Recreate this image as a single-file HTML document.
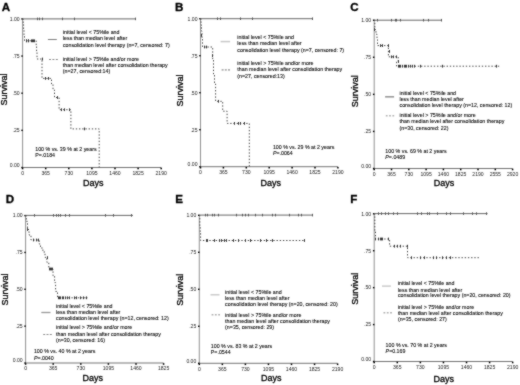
<!DOCTYPE html>
<html><head><meta charset="utf-8"><style>
html,body{margin:0;padding:0;background:#fff;}
svg{display:block;font-family:"Liberation Sans", sans-serif;filter:grayscale(1);}
.t{fill:#000;stroke:#000;stroke-width:0.08;}
.tk{fill:#1a1a1a;}
.ax{fill:#000;stroke:#000;stroke-width:0.3;}
</style></head><body>
<svg width="520" height="385" viewBox="0 0 520 385">
<defs><filter id="bl" filterUnits="userSpaceOnUse" x="0" y="0" width="520" height="385" color-interpolation-filters="sRGB"><feConvolveMatrix order="3" kernelMatrix="1 2 1 2 16 2 1 2 1" divisor="28" edgeMode="duplicate"/></filter></defs>
<rect width="520" height="385" fill="#fff"/>
<g filter="url(#bl)">
<g><text x="1.7" y="10.7" font-size="11.6" font-weight="bold" fill="#000" stroke="#000" stroke-width="0.3">A</text><path d="M22.6 18.9V167.5" stroke="#8c8c8c" stroke-width="0.95" fill="none"/><path d="M22.6 167.5H161.2" stroke="#6e6e6e" stroke-width="0.95" fill="none"/><rect x="21.3" y="18.2" width="1.5" height="1.4" fill="#000"/><text x="19.6" y="20.7" font-size="5.1" text-anchor="end" class="tk">1.00</text><rect x="21.3" y="55.35" width="1.5" height="1.4" fill="#000"/><text x="19.6" y="57.85" font-size="5.1" text-anchor="end" class="tk">.75</text><rect x="21.3" y="92.5" width="1.5" height="1.4" fill="#000"/><text x="19.6" y="95" font-size="5.1" text-anchor="end" class="tk">.50</text><rect x="21.3" y="129.65" width="1.5" height="1.4" fill="#000"/><text x="19.6" y="132.15" font-size="5.1" text-anchor="end" class="tk">.25</text><rect x="21.3" y="166.8" width="1.5" height="1.4" fill="#000"/><text x="19.6" y="166.7" font-size="5.1" text-anchor="end" class="tk">0.00</text><rect x="21.85" y="167.7" width="1.5" height="1.6" fill="#000"/><text x="22.6" y="174.9" font-size="5.1" text-anchor="middle" class="tk">0</text><rect x="44.95" y="167.7" width="1.5" height="1.6" fill="#000"/><text x="45.7" y="174.9" font-size="5.1" text-anchor="middle" class="tk">365</text><rect x="68.05" y="167.7" width="1.5" height="1.6" fill="#000"/><text x="68.8" y="174.9" font-size="5.1" text-anchor="middle" class="tk">730</text><rect x="91.15" y="167.7" width="1.5" height="1.6" fill="#000"/><text x="91.9" y="174.9" font-size="5.1" text-anchor="middle" class="tk">1095</text><rect x="114.25" y="167.7" width="1.5" height="1.6" fill="#000"/><text x="115" y="174.9" font-size="5.1" text-anchor="middle" class="tk">1460</text><rect x="137.35" y="167.7" width="1.5" height="1.6" fill="#000"/><text x="138.1" y="174.9" font-size="5.1" text-anchor="middle" class="tk">1825</text><rect x="160.45" y="167.7" width="1.5" height="1.6" fill="#000"/><text x="161.2" y="174.9" font-size="5.1" text-anchor="middle" class="tk">2190</text><text x="82.9" y="186" font-size="9.0" class="ax">Days</text><text transform="translate(6.5 89.5) rotate(-90)" font-size="9.0" text-anchor="middle" class="ax">Survival</text><text transform="translate(62.9 33.69) scale(1 1.08)" font-size="5.3" class="t">initial level &lt; 75%ile and</text><text transform="translate(62.9 40.29) scale(1 1.08)" font-size="5.3" class="t">less than median level after</text><text transform="translate(62.9 46.89) scale(1 1.08)" font-size="5.3" class="t">consolidation level therapy (n=7, censored: 7)</text><line x1="47.9" y1="39.5" x2="56.8" y2="39.5" stroke="#808080" stroke-width="1.0"/><text transform="translate(62.8 60.84) scale(1 1.08)" font-size="5.3" class="t">initial level &gt; 75%ile and/or more</text><text transform="translate(62.8 66.99) scale(1 1.08)" font-size="5.3" class="t">than median level after consolidation therapy</text><text transform="translate(62.8 73.39) scale(1 1.08)" font-size="5.3" class="t">(n=27, censored:14)</text><line x1="49" y1="59.5" x2="57.8" y2="59.5" stroke="#8a8a8a" stroke-width="1.0" stroke-dasharray="2 1.4"/><text transform="translate(35.2 150.55) scale(1 1.08)" font-size="5.3" class="t">100 % vs. 39 % at 2 years</text><text transform="translate(35.2 156.65) scale(1 1.08)" font-size="5.3" class="t"><tspan font-style="normal">P</tspan>=.0184</text><path d="M22.6 18.9 L135.3 18.9" stroke="#606060" stroke-width="0.95" fill="none"/><rect x="37" y="17.6" width="1" height="2.6" fill="#5a5a5a"/><rect x="39" y="17.6" width="1" height="2.6" fill="#5a5a5a"/><rect x="42" y="17.6" width="1" height="2.6" fill="#5a5a5a"/><rect x="62" y="17.6" width="1" height="2.6" fill="#5a5a5a"/><rect x="74" y="17.6" width="1" height="2.6" fill="#5a5a5a"/><rect x="135" y="17.6" width="1" height="2.6" fill="#5a5a5a"/><path d="M22.6 18.9 L23.2 18.9 L23.2 24.5 L23.6 24.5 L23.6 30 L24 30 L24 35.5 L24.5 35.5 L24.5 40.8 L36.2 40.8 L36.2 46.4 L36.6 46.4 L36.6 52 L37 52 L37 59 L42 59 L42 78.4 L51.5 78.4 L51.5 84 L53 84 L53 90 L54.5 90 L54.5 97.5 L59.1 97.5 L59.1 109.7 L70.9 109.7 L70.9 128.9 L99.2 128.9 L99.2 167.5" stroke="#484848" stroke-width="1" fill="none" stroke-dasharray="1.4 1.8"/><rect x="26" y="39.4" width="1" height="2.8" fill="#3a3a3a"/><rect x="26" y="39.4" width="1" height="2.8" fill="#3a3a3a"/><rect x="28" y="39.4" width="1" height="2.8" fill="#3a3a3a"/><rect x="28" y="39.4" width="1" height="2.8" fill="#3a3a3a"/><rect x="31" y="39.4" width="1" height="2.8" fill="#3a3a3a"/><rect x="32" y="39.4" width="1" height="2.8" fill="#3a3a3a"/><rect x="33" y="39.4" width="1" height="2.8" fill="#3a3a3a"/><rect x="34" y="39.4" width="1" height="2.8" fill="#3a3a3a"/><rect x="42" y="57.6" width="1" height="2.8" fill="#3a3a3a"/><rect x="45" y="77" width="1" height="2.8" fill="#3a3a3a"/><rect x="48" y="77" width="1" height="2.8" fill="#3a3a3a"/><rect x="57" y="96.1" width="1" height="2.8" fill="#3a3a3a"/><rect x="61" y="108.3" width="1" height="2.8" fill="#3a3a3a"/><rect x="64" y="108.3" width="1" height="2.8" fill="#3a3a3a"/><rect x="69" y="108.3" width="1" height="2.8" fill="#3a3a3a"/><rect x="84" y="127.5" width="1" height="2.8" fill="#3a3a3a"/></g>
<g><text x="175.1" y="10.7" font-size="11.6" font-weight="bold" fill="#000" stroke="#000" stroke-width="0.3">B</text><path d="M200.5 18.7V166.7" stroke="#8c8c8c" stroke-width="0.95" fill="none"/><path d="M200.5 166.7H337.9" stroke="#6e6e6e" stroke-width="0.95" fill="none"/><rect x="199.2" y="18" width="1.5" height="1.4" fill="#000"/><text x="197.5" y="20.5" font-size="5.1" text-anchor="end" class="tk">1.00</text><rect x="199.2" y="55" width="1.5" height="1.4" fill="#000"/><text x="197.5" y="57.5" font-size="5.1" text-anchor="end" class="tk">.75</text><rect x="199.2" y="92" width="1.5" height="1.4" fill="#000"/><text x="197.5" y="94.5" font-size="5.1" text-anchor="end" class="tk">.50</text><rect x="199.2" y="129" width="1.5" height="1.4" fill="#000"/><text x="197.5" y="131.5" font-size="5.1" text-anchor="end" class="tk">.25</text><rect x="199.2" y="166" width="1.5" height="1.4" fill="#000"/><text x="197.5" y="165.9" font-size="5.1" text-anchor="end" class="tk">0.00</text><rect x="199.75" y="166.9" width="1.5" height="1.6" fill="#000"/><text x="200.5" y="174.1" font-size="5.1" text-anchor="middle" class="tk">0</text><rect x="222.65" y="166.9" width="1.5" height="1.6" fill="#000"/><text x="223.4" y="174.1" font-size="5.1" text-anchor="middle" class="tk">365</text><rect x="245.55" y="166.9" width="1.5" height="1.6" fill="#000"/><text x="246.3" y="174.1" font-size="5.1" text-anchor="middle" class="tk">730</text><rect x="268.45" y="166.9" width="1.5" height="1.6" fill="#000"/><text x="269.2" y="174.1" font-size="5.1" text-anchor="middle" class="tk">1095</text><rect x="291.35" y="166.9" width="1.5" height="1.6" fill="#000"/><text x="292.1" y="174.1" font-size="5.1" text-anchor="middle" class="tk">1460</text><rect x="314.25" y="166.9" width="1.5" height="1.6" fill="#000"/><text x="315" y="174.1" font-size="5.1" text-anchor="middle" class="tk">1825</text><rect x="337.15" y="166.9" width="1.5" height="1.6" fill="#000"/><text x="337.9" y="174.1" font-size="5.1" text-anchor="middle" class="tk">2190</text><text x="260.4" y="186.2" font-size="9.0" class="ax">Days</text><text transform="translate(183.3 90.5) rotate(-90)" font-size="9.0" text-anchor="middle" class="ax">Survival</text><text transform="translate(237.3 38.89) scale(1 1.08)" font-size="5.3" class="t">initial level &lt; 75%ile and</text><text transform="translate(237.3 45.39) scale(1 1.08)" font-size="5.3" class="t">less than median level after</text><text transform="translate(237.3 51.89) scale(1 1.08)" font-size="5.3" class="t">consolidation level therapy (n=7, censored: 7)</text><line x1="220.6" y1="41.6" x2="230.1" y2="41.6" stroke="#c8c8c8" stroke-width="1.5"/><text transform="translate(237.3 65.49) scale(1 1.08)" font-size="5.3" class="t">initial level &gt; 75%ile and/or more</text><text transform="translate(237.3 71.09) scale(1 1.08)" font-size="5.3" class="t">than median level after consolidation therapy</text><text transform="translate(237.3 77.69) scale(1 1.08)" font-size="5.3" class="t">(n=27, censored:13)</text><line x1="221.6" y1="69.9" x2="230" y2="69.9" stroke="#b0b0b0" stroke-width="1.8" stroke-dasharray="2 1.2"/><text transform="translate(272.9 149.45) scale(1 1.08)" font-size="5.3" class="t">100 % vs. 29 % at 2 years</text><text transform="translate(272.9 155.2) scale(1 1.08)" font-size="5.3" class="t"><tspan font-style="italic">P</tspan>=.0064</text><path d="M200.5 18.7 L312.7 18.7" stroke="#606060" stroke-width="0.95" fill="none"/><rect x="217" y="17.4" width="1" height="2.6" fill="#5a5a5a"/><rect x="220" y="17.4" width="1" height="2.6" fill="#5a5a5a"/><rect x="240" y="17.4" width="1" height="2.6" fill="#5a5a5a"/><rect x="252" y="17.4" width="1" height="2.6" fill="#5a5a5a"/><rect x="312" y="17.4" width="1" height="2.6" fill="#5a5a5a"/><path d="M200.5 18.7 L201 18.7 L201 25 L201.5 25 L201.5 31 L202 31 L202 38 L202.5 38 L202.5 47 L212.7 47 L212.7 60 L213.5 60 L213.5 74 L214.5 74 L214.5 84 L215.6 84 L215.6 101.3 L222.7 101.3 L222.7 111.2 L227.1 111.2 L227.1 123.4 L249.3 123.4 L249.3 166.7" stroke="#484848" stroke-width="1" fill="none" stroke-dasharray="1.4 1.8"/><rect x="201" y="34" width="1" height="2.8" fill="#3a3a3a"/><rect x="204" y="45.6" width="1" height="2.8" fill="#3a3a3a"/><rect x="206" y="45.6" width="1" height="2.8" fill="#3a3a3a"/><rect x="212" y="54.2" width="1" height="2.8" fill="#3a3a3a"/><rect x="218" y="99.9" width="1" height="2.8" fill="#3a3a3a"/><rect x="234" y="122" width="1" height="2.8" fill="#3a3a3a"/><rect x="238" y="122" width="1" height="2.8" fill="#3a3a3a"/><rect x="240" y="122" width="1" height="2.8" fill="#3a3a3a"/><rect x="244" y="122" width="1" height="2.8" fill="#3a3a3a"/></g>
<g><text x="350.3" y="10.7" font-size="11.6" font-weight="bold" fill="#000" stroke="#000" stroke-width="0.3">C</text><path d="M374.2 20.2V168.5" stroke="#8c8c8c" stroke-width="0.95" fill="none"/><path d="M374.2 168.5H512.6" stroke="#6e6e6e" stroke-width="0.95" fill="none"/><rect x="372.9" y="19.5" width="1.5" height="1.4" fill="#000"/><text x="371.2" y="22" font-size="5.1" text-anchor="end" class="tk">1.00</text><rect x="372.9" y="56.57" width="1.5" height="1.4" fill="#000"/><text x="371.2" y="59.07" font-size="5.1" text-anchor="end" class="tk">.75</text><rect x="372.9" y="93.65" width="1.5" height="1.4" fill="#000"/><text x="371.2" y="96.15" font-size="5.1" text-anchor="end" class="tk">.50</text><rect x="372.9" y="130.73" width="1.5" height="1.4" fill="#000"/><text x="371.2" y="133.23" font-size="5.1" text-anchor="end" class="tk">.25</text><rect x="372.9" y="167.8" width="1.5" height="1.4" fill="#000"/><text x="371.2" y="167.7" font-size="5.1" text-anchor="end" class="tk">0.00</text><rect x="373.45" y="168.7" width="1.5" height="1.6" fill="#000"/><text x="374.2" y="175.9" font-size="5.1" text-anchor="middle" class="tk">0</text><rect x="390.75" y="168.7" width="1.5" height="1.6" fill="#000"/><text x="391.5" y="175.9" font-size="5.1" text-anchor="middle" class="tk">365</text><rect x="408.05" y="168.7" width="1.5" height="1.6" fill="#000"/><text x="408.8" y="175.9" font-size="5.1" text-anchor="middle" class="tk">730</text><rect x="425.35" y="168.7" width="1.5" height="1.6" fill="#000"/><text x="426.1" y="175.9" font-size="5.1" text-anchor="middle" class="tk">1095</text><rect x="442.65" y="168.7" width="1.5" height="1.6" fill="#000"/><text x="443.4" y="175.9" font-size="5.1" text-anchor="middle" class="tk">1460</text><rect x="459.95" y="168.7" width="1.5" height="1.6" fill="#000"/><text x="460.7" y="175.9" font-size="5.1" text-anchor="middle" class="tk">1825</text><rect x="477.25" y="168.7" width="1.5" height="1.6" fill="#000"/><text x="478" y="175.9" font-size="5.1" text-anchor="middle" class="tk">2190</text><rect x="494.55" y="168.7" width="1.5" height="1.6" fill="#000"/><text x="495.3" y="175.9" font-size="5.1" text-anchor="middle" class="tk">2555</text><rect x="511.85" y="168.7" width="1.5" height="1.6" fill="#000"/><text x="512.6" y="175.9" font-size="5.1" text-anchor="middle" class="tk">2920</text><text x="433.8" y="186.2" font-size="9.0" class="ax">Days</text><text transform="translate(358.3 91.2) rotate(-90)" font-size="9.0" text-anchor="middle" class="ax">Survival</text><text transform="translate(399.5 94.99) scale(1 1.08)" font-size="5.3" class="t">initial level &lt; 75%ile and</text><text transform="translate(399.5 101.19) scale(1 1.08)" font-size="5.3" class="t">less than median level after</text><text transform="translate(399.5 107.39) scale(1 1.08)" font-size="5.3" class="t">consolidation level therapy (n=12, censored: 12)</text><line x1="385.1" y1="96.8" x2="394.1" y2="96.8" stroke="#9a9a9a" stroke-width="1.6"/><text transform="translate(399.5 117.19) scale(1 1.08)" font-size="5.3" class="t">initial level &gt; 75%ile and/or more</text><text transform="translate(399.5 123.29) scale(1 1.08)" font-size="5.3" class="t">than median level after consolidation therapy</text><text transform="translate(399.5 129.59) scale(1 1.08)" font-size="5.3" class="t">(n=30, censored: 22)</text><line x1="385.8" y1="115.7" x2="394.2" y2="115.7" stroke="#b4b4b4" stroke-width="1.6" stroke-dasharray="1.8 1.5"/><text transform="translate(385.3 153.2) scale(1 1.08)" font-size="5.3" class="t">100 % vs. 69 % at 2 years</text><text transform="translate(385.3 159.4) scale(1 1.08)" font-size="5.3" class="t"><tspan font-style="italic">P</tspan>=.0489</text><path d="M374.2 20.2 L441.8 20.2" stroke="#606060" stroke-width="0.95" fill="none"/><rect x="377" y="18.9" width="1" height="2.6" fill="#5a5a5a"/><rect x="391" y="18.9" width="1" height="2.6" fill="#5a5a5a"/><rect x="395" y="18.9" width="1" height="2.6" fill="#5a5a5a"/><rect x="396" y="18.9" width="1" height="2.6" fill="#5a5a5a"/><rect x="400" y="18.9" width="1" height="2.6" fill="#5a5a5a"/><rect x="423" y="18.9" width="1" height="2.6" fill="#5a5a5a"/><rect x="428" y="18.9" width="1" height="2.6" fill="#5a5a5a"/><rect x="441" y="18.9" width="1" height="2.6" fill="#5a5a5a"/><path d="M374.2 20.2 L374.8 20.2 L374.8 29.6 L376 29.6 L376 34.2 L377 34.2 L377 39.7 L377.5 39.7 L377.5 45.6 L388.4 45.6 L388.4 56.8 L398.2 56.8 L398.2 61.5 L396.6 61.5 L396.6 66.2 L500 66.2" stroke="#484848" stroke-width="1" fill="none" stroke-dasharray="1.4 1.8"/><rect x="374" y="28.2" width="1" height="2.8" fill="#3a3a3a"/><rect x="380" y="44.2" width="1" height="2.8" fill="#3a3a3a"/><rect x="382" y="44.2" width="1" height="2.8" fill="#3a3a3a"/><rect x="388" y="44.2" width="1" height="2.8" fill="#3a3a3a"/><rect x="389" y="50" width="1" height="2.8" fill="#3a3a3a"/><rect x="391" y="55.4" width="1" height="2.8" fill="#3a3a3a"/><rect x="393" y="55.4" width="1" height="2.8" fill="#3a3a3a"/><rect x="396" y="55.4" width="1" height="2.8" fill="#3a3a3a"/><rect x="398" y="60.1" width="1" height="2.8" fill="#3a3a3a"/><rect x="398" y="64.8" width="1" height="2.8" fill="#3a3a3a"/><rect x="399" y="64.8" width="1" height="2.8" fill="#3a3a3a"/><rect x="400" y="64.8" width="1" height="2.8" fill="#3a3a3a"/><rect x="402" y="64.8" width="1" height="2.8" fill="#3a3a3a"/><rect x="404" y="64.8" width="1" height="2.8" fill="#3a3a3a"/><rect x="405" y="64.8" width="1" height="2.8" fill="#3a3a3a"/><rect x="406" y="64.8" width="1" height="2.8" fill="#3a3a3a"/><rect x="408" y="64.8" width="1" height="2.8" fill="#3a3a3a"/><rect x="410" y="64.8" width="1" height="2.8" fill="#3a3a3a"/><rect x="412" y="64.8" width="1" height="2.8" fill="#3a3a3a"/><rect x="414" y="64.8" width="1" height="2.8" fill="#3a3a3a"/><rect x="420" y="64.8" width="1" height="2.8" fill="#3a3a3a"/><rect x="442" y="64.8" width="1" height="2.8" fill="#3a3a3a"/><rect x="496" y="64.8" width="1" height="2.8" fill="#3a3a3a"/></g>
<g><text x="5.8" y="203" font-size="11.6" font-weight="bold" fill="#000" stroke="#000" stroke-width="0.3">D</text><path d="M25.6 215.6V363" stroke="#8c8c8c" stroke-width="0.95" fill="none"/><path d="M25.6 363H163.6" stroke="#6e6e6e" stroke-width="0.95" fill="none"/><rect x="24.3" y="214.9" width="1.5" height="1.4" fill="#000"/><text x="22.6" y="217.4" font-size="5.1" text-anchor="end" class="tk">1.00</text><rect x="24.3" y="251.75" width="1.5" height="1.4" fill="#000"/><text x="22.6" y="254.25" font-size="5.1" text-anchor="end" class="tk">.75</text><rect x="24.3" y="288.6" width="1.5" height="1.4" fill="#000"/><text x="22.6" y="291.1" font-size="5.1" text-anchor="end" class="tk">.50</text><rect x="24.3" y="325.45" width="1.5" height="1.4" fill="#000"/><text x="22.6" y="327.95" font-size="5.1" text-anchor="end" class="tk">.25</text><rect x="24.3" y="362.3" width="1.5" height="1.4" fill="#000"/><text x="22.6" y="362.2" font-size="5.1" text-anchor="end" class="tk">0.00</text><rect x="24.85" y="363.2" width="1.5" height="1.6" fill="#000"/><text x="25.6" y="370.4" font-size="5.1" text-anchor="middle" class="tk">0</text><rect x="52.45" y="363.2" width="1.5" height="1.6" fill="#000"/><text x="53.2" y="370.4" font-size="5.1" text-anchor="middle" class="tk">365</text><rect x="80.05" y="363.2" width="1.5" height="1.6" fill="#000"/><text x="80.8" y="370.4" font-size="5.1" text-anchor="middle" class="tk">730</text><rect x="107.65" y="363.2" width="1.5" height="1.6" fill="#000"/><text x="108.4" y="370.4" font-size="5.1" text-anchor="middle" class="tk">1095</text><rect x="135.25" y="363.2" width="1.5" height="1.6" fill="#000"/><text x="136" y="370.4" font-size="5.1" text-anchor="middle" class="tk">1460</text><rect x="162.85" y="363.2" width="1.5" height="1.6" fill="#000"/><text x="163.6" y="370.4" font-size="5.1" text-anchor="middle" class="tk">1825</text><text x="82.4" y="381.2" font-size="9.0" class="ax">Days</text><text transform="translate(7.8 289.5) rotate(-90)" font-size="9.0" text-anchor="middle" class="ax">Survival</text><text transform="translate(56 307.99) scale(1 1.08)" font-size="5.3" class="t">initial level &lt; 75%ile and</text><text transform="translate(56 314.29) scale(1 1.08)" font-size="5.3" class="t">less than median level after</text><text transform="translate(56 320.39) scale(1 1.08)" font-size="5.3" class="t">consolidation level therapy (n=12, censored: 12)</text><line x1="41.3" y1="312.5" x2="50.5" y2="312.5" stroke="#999" stroke-width="1.3"/><text transform="translate(56 329.04) scale(1 1.08)" font-size="5.3" class="t">initial level &gt; 75%ile and/or more</text><text transform="translate(56 335.99) scale(1 1.08)" font-size="5.3" class="t">than median level after consolidation therapy</text><text transform="translate(56 342.09) scale(1 1.08)" font-size="5.3" class="t">(n=30, censored: 16)</text><line x1="43.2" y1="334.5" x2="51.8" y2="334.5" stroke="#8c8c8c" stroke-width="1.2" stroke-dasharray="2 1.3"/><text transform="translate(33.9 352.85) scale(1 1.08)" font-size="5.3" class="t">100 % vs. 40 % at 2 years</text><text transform="translate(33.9 360.3) scale(1 1.08)" font-size="5.3" class="t"><tspan font-style="italic">P</tspan>=.0040</text><path d="M25.6 215.4 L133 215.4" stroke="#606060" stroke-width="0.95" fill="none"/><rect x="34" y="214.1" width="1" height="2.6" fill="#5a5a5a"/><rect x="53" y="214.1" width="1" height="2.6" fill="#5a5a5a"/><rect x="56" y="214.1" width="1" height="2.6" fill="#5a5a5a"/><rect x="58" y="214.1" width="1" height="2.6" fill="#5a5a5a"/><rect x="60" y="214.1" width="1" height="2.6" fill="#5a5a5a"/><rect x="65" y="214.1" width="1" height="2.6" fill="#5a5a5a"/><rect x="69" y="214.1" width="1" height="2.6" fill="#5a5a5a"/><rect x="105" y="214.1" width="1" height="2.6" fill="#5a5a5a"/><rect x="113" y="214.1" width="1" height="2.6" fill="#5a5a5a"/><rect x="131" y="214.1" width="1" height="2.6" fill="#5a5a5a"/><path d="M25.6 215.6 L26.3 215.6 L26.3 221.3 L27.5 221.3 L27.5 229.5 L29 229.5 L29 235 L31 235 L31 240 L39.2 240 L39.2 244 L40.5 244 L40.5 248 L42.9 248 L42.9 252 L45 252 L45 257.3 L46.8 257.3 L46.8 262.2 L48.8 262.2 L48.8 269 L53 269 L53 275.8 L54.6 275.8 L54.6 282.6 L55.6 282.6 L55.6 291.4 L57.5 291.4 L57.5 297.8 L87.8 297.8" stroke="#484848" stroke-width="1" fill="none" stroke-dasharray="1.4 1.8"/><rect x="27" y="228.1" width="1" height="2.8" fill="#3a3a3a"/><rect x="33" y="238.6" width="1" height="2.8" fill="#3a3a3a"/><rect x="36" y="238.6" width="1" height="2.8" fill="#3a3a3a"/><rect x="38" y="238.6" width="1" height="2.8" fill="#3a3a3a"/><rect x="47" y="256.2" width="1" height="2.8" fill="#3a3a3a"/><rect x="49" y="267.6" width="1" height="2.8" fill="#3a3a3a"/><rect x="50" y="267.6" width="1" height="2.8" fill="#3a3a3a"/><rect x="51" y="267.6" width="1" height="2.8" fill="#3a3a3a"/><rect x="52" y="267.6" width="1" height="2.8" fill="#3a3a3a"/><rect x="58" y="296.4" width="1" height="2.8" fill="#3a3a3a"/><rect x="59" y="296.4" width="1" height="2.8" fill="#3a3a3a"/><rect x="60" y="296.4" width="1" height="2.8" fill="#3a3a3a"/><rect x="62" y="296.4" width="1" height="2.8" fill="#3a3a3a"/><rect x="63" y="296.4" width="1" height="2.8" fill="#3a3a3a"/><rect x="65" y="296.4" width="1" height="2.8" fill="#3a3a3a"/><rect x="67" y="296.4" width="1" height="2.8" fill="#3a3a3a"/><rect x="69" y="296.4" width="1" height="2.8" fill="#3a3a3a"/><rect x="74" y="296.4" width="1" height="2.8" fill="#3a3a3a"/><rect x="76" y="296.4" width="1" height="2.8" fill="#3a3a3a"/><rect x="80" y="296.4" width="1" height="2.8" fill="#3a3a3a"/><rect x="83" y="296.4" width="1" height="2.8" fill="#3a3a3a"/><rect x="86" y="296.4" width="1" height="2.8" fill="#3a3a3a"/></g>
<g><text x="175.2" y="203.2" font-size="11.6" font-weight="bold" fill="#000" stroke="#000" stroke-width="0.3">E</text><path d="M199.3 215.3V363.3" stroke="#8c8c8c" stroke-width="0.95" fill="none"/><path d="M199.3 363.3H337.6" stroke="#6e6e6e" stroke-width="0.95" fill="none"/><rect x="198" y="214.6" width="1.5" height="1.4" fill="#000"/><text x="196.3" y="217.1" font-size="5.1" text-anchor="end" class="tk">1.00</text><rect x="198" y="251.6" width="1.5" height="1.4" fill="#000"/><text x="196.3" y="254.1" font-size="5.1" text-anchor="end" class="tk">.75</text><rect x="198" y="288.6" width="1.5" height="1.4" fill="#000"/><text x="196.3" y="291.1" font-size="5.1" text-anchor="end" class="tk">.50</text><rect x="198" y="325.6" width="1.5" height="1.4" fill="#000"/><text x="196.3" y="328.1" font-size="5.1" text-anchor="end" class="tk">.25</text><rect x="198" y="362.6" width="1.5" height="1.4" fill="#000"/><text x="196.3" y="362.5" font-size="5.1" text-anchor="end" class="tk">0.00</text><rect x="198.55" y="363.5" width="1.5" height="1.6" fill="#000"/><text x="199.3" y="370.7" font-size="5.1" text-anchor="middle" class="tk">0</text><rect x="221.6" y="363.5" width="1.5" height="1.6" fill="#000"/><text x="222.35" y="370.7" font-size="5.1" text-anchor="middle" class="tk">365</text><rect x="244.65" y="363.5" width="1.5" height="1.6" fill="#000"/><text x="245.4" y="370.7" font-size="5.1" text-anchor="middle" class="tk">730</text><rect x="267.7" y="363.5" width="1.5" height="1.6" fill="#000"/><text x="268.45" y="370.7" font-size="5.1" text-anchor="middle" class="tk">1095</text><rect x="290.75" y="363.5" width="1.5" height="1.6" fill="#000"/><text x="291.5" y="370.7" font-size="5.1" text-anchor="middle" class="tk">1460</text><rect x="313.8" y="363.5" width="1.5" height="1.6" fill="#000"/><text x="314.55" y="370.7" font-size="5.1" text-anchor="middle" class="tk">1825</text><rect x="336.85" y="363.5" width="1.5" height="1.6" fill="#000"/><text x="337.6" y="370.7" font-size="5.1" text-anchor="middle" class="tk">2190</text><text x="261" y="381.2" font-size="9.0" class="ax">Days</text><text transform="translate(182.8 289.7) rotate(-90)" font-size="9.0" text-anchor="middle" class="ax">Survival</text><text transform="translate(225.1 293.79) scale(1 1.08)" font-size="5.3" class="t">initial level &lt; 75%ile and</text><text transform="translate(225.1 299.99) scale(1 1.08)" font-size="5.3" class="t">less than median level after</text><text transform="translate(225.1 306.09) scale(1 1.08)" font-size="5.3" class="t">consolidation level therapy (n=20, censored: 20)</text><line x1="210.5" y1="294.8" x2="219.5" y2="294.8" stroke="#c8c8c8" stroke-width="1.4"/><text transform="translate(225.1 317.39) scale(1 1.08)" font-size="5.3" class="t">initial level &gt; 75%ile and/or more</text><text transform="translate(225.1 322.89) scale(1 1.08)" font-size="5.3" class="t">than median level after consolidation therapy</text><text transform="translate(225.1 329.49) scale(1 1.08)" font-size="5.3" class="t">(n=35, censored: 29)</text><line x1="211.6" y1="314.7" x2="220" y2="314.7" stroke="#b0b0b0" stroke-width="1.6" stroke-dasharray="1.8 1.5"/><text transform="translate(210.8 347.9) scale(1 1.08)" font-size="5.3" class="t">100 % vs. 83 % at 2 years</text><text transform="translate(210.8 354.2) scale(1 1.08)" font-size="5.3" class="t"><tspan font-style="normal">P</tspan>=.0544</text><path d="M199.3 215.1 L312.7 215.1" stroke="#606060" stroke-width="0.95" fill="none"/><rect x="205" y="213.8" width="1" height="2.6" fill="#5a5a5a"/><rect x="207" y="213.8" width="1" height="2.6" fill="#5a5a5a"/><rect x="212" y="213.8" width="1" height="2.6" fill="#5a5a5a"/><rect x="214" y="213.8" width="1" height="2.6" fill="#5a5a5a"/><rect x="218" y="213.8" width="1" height="2.6" fill="#5a5a5a"/><rect x="236" y="213.8" width="1" height="2.6" fill="#5a5a5a"/><rect x="242" y="213.8" width="1" height="2.6" fill="#5a5a5a"/><rect x="245" y="213.8" width="1" height="2.6" fill="#5a5a5a"/><rect x="248" y="213.8" width="1" height="2.6" fill="#5a5a5a"/><rect x="255" y="213.8" width="1" height="2.6" fill="#5a5a5a"/><rect x="262" y="213.8" width="1" height="2.6" fill="#5a5a5a"/><rect x="272" y="213.8" width="1" height="2.6" fill="#5a5a5a"/><rect x="275" y="213.8" width="1" height="2.6" fill="#5a5a5a"/><rect x="289" y="213.8" width="1" height="2.6" fill="#5a5a5a"/><rect x="298" y="213.8" width="1" height="2.6" fill="#5a5a5a"/><rect x="301" y="213.8" width="1" height="2.6" fill="#5a5a5a"/><rect x="312" y="213.8" width="1" height="2.6" fill="#5a5a5a"/><path d="M199.3 215.3 L199.8 215.3 L199.8 226.7 L200.2 226.7 L200.2 232.5 L200.6 232.5 L200.6 240.5 L304.7 240.5" stroke="#484848" stroke-width="1" fill="none" stroke-dasharray="1.4 1.8"/><rect x="206" y="239.1" width="1" height="2.8" fill="#3a3a3a"/><rect x="207" y="239.1" width="1" height="2.8" fill="#3a3a3a"/><rect x="214" y="239.1" width="1" height="2.8" fill="#3a3a3a"/><rect x="219" y="239.1" width="1" height="2.8" fill="#3a3a3a"/><rect x="221" y="239.1" width="1" height="2.8" fill="#3a3a3a"/><rect x="224" y="239.1" width="1" height="2.8" fill="#3a3a3a"/><rect x="226" y="239.1" width="1" height="2.8" fill="#3a3a3a"/><rect x="233" y="239.1" width="1" height="2.8" fill="#3a3a3a"/><rect x="238" y="239.1" width="1" height="2.8" fill="#3a3a3a"/><rect x="245" y="239.1" width="1" height="2.8" fill="#3a3a3a"/><rect x="250" y="239.1" width="1" height="2.8" fill="#3a3a3a"/><rect x="250" y="239.1" width="1" height="2.8" fill="#3a3a3a"/><rect x="260" y="239.1" width="1" height="2.8" fill="#3a3a3a"/><rect x="266" y="239.1" width="1" height="2.8" fill="#3a3a3a"/><rect x="272" y="239.1" width="1" height="2.8" fill="#3a3a3a"/><rect x="304" y="239.1" width="1" height="2.8" fill="#3a3a3a"/></g>
<g><text x="350.2" y="203" font-size="11.6" font-weight="bold" fill="#000" stroke="#000" stroke-width="0.3">F</text><path d="M374.2 213.8V361.5" stroke="#8c8c8c" stroke-width="0.95" fill="none"/><path d="M374.2 361.5H512.68" stroke="#6e6e6e" stroke-width="0.95" fill="none"/><rect x="372.9" y="213.1" width="1.5" height="1.4" fill="#000"/><text x="371.2" y="215.6" font-size="5.1" text-anchor="end" class="tk">1.00</text><rect x="372.9" y="250.03" width="1.5" height="1.4" fill="#000"/><text x="371.2" y="252.53" font-size="5.1" text-anchor="end" class="tk">.75</text><rect x="372.9" y="286.95" width="1.5" height="1.4" fill="#000"/><text x="371.2" y="289.45" font-size="5.1" text-anchor="end" class="tk">.50</text><rect x="372.9" y="323.88" width="1.5" height="1.4" fill="#000"/><text x="371.2" y="326.38" font-size="5.1" text-anchor="end" class="tk">.25</text><rect x="372.9" y="360.8" width="1.5" height="1.4" fill="#000"/><text x="371.2" y="360.7" font-size="5.1" text-anchor="end" class="tk">0.00</text><rect x="373.45" y="361.7" width="1.5" height="1.6" fill="#000"/><text x="374.2" y="368.9" font-size="5.1" text-anchor="middle" class="tk">0</text><rect x="396.53" y="361.7" width="1.5" height="1.6" fill="#000"/><text x="397.28" y="368.9" font-size="5.1" text-anchor="middle" class="tk">365</text><rect x="419.61" y="361.7" width="1.5" height="1.6" fill="#000"/><text x="420.36" y="368.9" font-size="5.1" text-anchor="middle" class="tk">730</text><rect x="442.69" y="361.7" width="1.5" height="1.6" fill="#000"/><text x="443.44" y="368.9" font-size="5.1" text-anchor="middle" class="tk">1095</text><rect x="465.77" y="361.7" width="1.5" height="1.6" fill="#000"/><text x="466.52" y="368.9" font-size="5.1" text-anchor="middle" class="tk">1460</text><rect x="488.85" y="361.7" width="1.5" height="1.6" fill="#000"/><text x="489.6" y="368.9" font-size="5.1" text-anchor="middle" class="tk">1825</text><rect x="511.93" y="361.7" width="1.5" height="1.6" fill="#000"/><text x="512.68" y="368.9" font-size="5.1" text-anchor="middle" class="tk">2190</text><text x="433.4" y="381.8" font-size="9.0" class="ax">Days</text><text transform="translate(358.3 288.7) rotate(-90)" font-size="9.0" text-anchor="middle" class="ax">Survival</text><text transform="translate(397.9 285.09) scale(1 1.08)" font-size="5.3" class="t">initial level &lt; 75%ile and</text><text transform="translate(397.9 291.59) scale(1 1.08)" font-size="5.3" class="t">less than median level after</text><text transform="translate(397.9 297.49) scale(1 1.08)" font-size="5.3" class="t">consolidation level therapy (n=20, censored: 20)</text><line x1="382" y1="286.1" x2="390.9" y2="286.1" stroke="#c8c8c8" stroke-width="1.4"/><text transform="translate(397.9 308.89) scale(1 1.08)" font-size="5.3" class="t">initial level &gt; 75%ile and/or more</text><text transform="translate(397.9 315.09) scale(1 1.08)" font-size="5.3" class="t">than median level after consolidation therapy</text><text transform="translate(397.9 321.19) scale(1 1.08)" font-size="5.3" class="t">(n=35, censored: 27)</text><line x1="383.5" y1="312.7" x2="391.9" y2="312.7" stroke="#b0b0b0" stroke-width="1.6" stroke-dasharray="1.8 1.5"/><text transform="translate(385.6 346.5) scale(1 1.08)" font-size="5.3" class="t">100 % vs. 70 % at 2 years</text><text transform="translate(385.6 352.9) scale(1 1.08)" font-size="5.3" class="t"><tspan font-style="italic">P</tspan>=0.169</text><path d="M374.2 213.6 L487.6 213.6" stroke="#606060" stroke-width="0.95" fill="none"/><rect x="378" y="212.3" width="1" height="2.6" fill="#5a5a5a"/><rect x="381" y="212.3" width="1" height="2.6" fill="#5a5a5a"/><rect x="385" y="212.3" width="1" height="2.6" fill="#5a5a5a"/><rect x="388" y="212.3" width="1" height="2.6" fill="#5a5a5a"/><rect x="393" y="212.3" width="1" height="2.6" fill="#5a5a5a"/><rect x="397" y="212.3" width="1" height="2.6" fill="#5a5a5a"/><rect x="417" y="212.3" width="1" height="2.6" fill="#5a5a5a"/><rect x="421" y="212.3" width="1" height="2.6" fill="#5a5a5a"/><rect x="427" y="212.3" width="1" height="2.6" fill="#5a5a5a"/><rect x="429" y="212.3" width="1" height="2.6" fill="#5a5a5a"/><rect x="437" y="212.3" width="1" height="2.6" fill="#5a5a5a"/><rect x="446" y="212.3" width="1" height="2.6" fill="#5a5a5a"/><rect x="450" y="212.3" width="1" height="2.6" fill="#5a5a5a"/><rect x="463" y="212.3" width="1" height="2.6" fill="#5a5a5a"/><rect x="472" y="212.3" width="1" height="2.6" fill="#5a5a5a"/><rect x="476" y="212.3" width="1" height="2.6" fill="#5a5a5a"/><rect x="486" y="212.3" width="1" height="2.6" fill="#5a5a5a"/><path d="M374.2 213.8 L374.8 213.8 L374.8 230.9 L375.5 230.9 L375.5 239 L389.6 239 L389.6 246.2 L407.5 246.2 L407.5 257.7 L479.5 257.7" stroke="#484848" stroke-width="1" fill="none" stroke-dasharray="1.4 1.8"/><rect x="375" y="237.6" width="1" height="2.8" fill="#3a3a3a"/><rect x="378" y="237.6" width="1" height="2.8" fill="#3a3a3a"/><rect x="380" y="237.6" width="1" height="2.8" fill="#3a3a3a"/><rect x="381" y="237.6" width="1" height="2.8" fill="#3a3a3a"/><rect x="382" y="237.6" width="1" height="2.8" fill="#3a3a3a"/><rect x="388" y="237.6" width="1" height="2.8" fill="#3a3a3a"/><rect x="394" y="244.8" width="1" height="2.8" fill="#3a3a3a"/><rect x="397" y="244.8" width="1" height="2.8" fill="#3a3a3a"/><rect x="400" y="244.8" width="1" height="2.8" fill="#3a3a3a"/><rect x="407" y="244.8" width="1" height="2.8" fill="#3a3a3a"/><rect x="411" y="256.3" width="1" height="2.8" fill="#3a3a3a"/><rect x="420" y="256.3" width="1" height="2.8" fill="#3a3a3a"/><rect x="424" y="256.3" width="1" height="2.8" fill="#3a3a3a"/><rect x="433" y="256.3" width="1" height="2.8" fill="#3a3a3a"/><rect x="436" y="256.3" width="1" height="2.8" fill="#3a3a3a"/><rect x="442" y="256.3" width="1" height="2.8" fill="#3a3a3a"/><rect x="446" y="256.3" width="1" height="2.8" fill="#3a3a3a"/><rect x="450" y="256.3" width="1" height="2.8" fill="#3a3a3a"/></g>
</g>
</svg>
</body></html>
